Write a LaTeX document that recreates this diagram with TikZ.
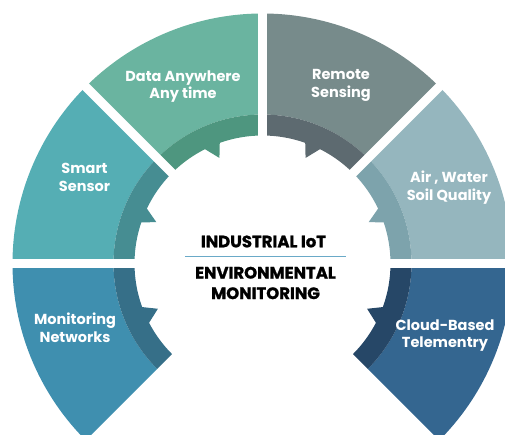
\documentclass[tikz,border=0pt]{standalone}
\usepackage{fontspec}
\setmainfont{Poppins}
\newfontfamily\hubfont{Poppins}[BoldFeatures={FakeBold=1.2}]
\usepackage{tikz}

\definecolor{dataL}{HTML}{6AB4A0}
\definecolor{dataD}{HTML}{4E967F}
\definecolor{remoteL}{HTML}{778B8B}
\definecolor{remoteD}{HTML}{5D6A70}
\definecolor{smartL}{HTML}{55AEB4}
\definecolor{smartD}{HTML}{468D92}
\definecolor{airL}{HTML}{95B6BE}
\definecolor{airD}{HTML}{7DA3AC}
\definecolor{monL}{HTML}{3F8FAF}
\definecolor{monD}{HTML}{366F88}
\definecolor{cloudL}{HTML}{346690}
\definecolor{cloudD}{HTML}{264767}
\definecolor{rule}{HTML}{6AAAC8}

\begin{document}
\begin{tikzpicture}[x=1pt,y=1pt,
    seglabel/.style={text=white, align=center, font=\fontsize{14.5}{17.5}\selectfont\bfseries},
    hublabel/.style={text=black, align=center, font=\hubfont\fontsize{16.5}{20.5}\selectfont\bfseries}]
    % Define parameters of ring
    \def\Rin{128};
    \def\Rband{149};
    \def\Rout{250};
    \def\Rtip{114};

    % Frame of picture
    \clip (-262.5,-170.5) rectangle (242.5,263.5);

    % Draw outer parts of segments
    \fill[dataL] (90:\Rband) arc[start angle=90, end angle=135, radius=\Rband] -- (135:\Rout) arc[start angle=135, end angle=90, radius=\Rout] -- cycle;
    \fill[smartL] (135:\Rband) arc[start angle=135, end angle=180, radius=\Rband] -- (180:\Rout) arc[start angle=180, end angle=135, radius=\Rout] -- cycle;
    \fill[monL] (180:\Rband) arc[start angle=180, end angle=225, radius=\Rband] -- (225:\Rout) arc[start angle=225, end angle=180, radius=\Rout] -- cycle;
    \fill[remoteL] (45:\Rband) arc[start angle=45, end angle=90, radius=\Rband] -- (90:\Rout) arc[start angle=90, end angle=45, radius=\Rout] -- cycle;
    \fill[airL] (0:\Rband) arc[start angle=0, end angle=45, radius=\Rband] -- (45:\Rout) arc[start angle=45, end angle=0, radius=\Rout] -- cycle;
    \fill[cloudL] (-45:\Rband) arc[start angle=-45, end angle=0, radius=\Rband] -- (0:\Rout) arc[start angle=0, end angle=-45, radius=\Rout] -- cycle;

    % Draw inner bands with teeth
    \fill[dataD] (90:\Rband) arc[start angle=90, end angle=135, radius=\Rband] -- (135:\Rin) arc[start angle=135, end angle=116.7, radius=\Rin] -- (112.2:\Rtip) -- (109.5:\Rin) arc[start angle=109.5, end angle=90, radius=\Rin] -- cycle;
    \fill[smartD] (135:\Rband) arc[start angle=135, end angle=180, radius=\Rband] -- (180:\Rin) arc[start angle=180, end angle=161.3, radius=\Rin] -- (158.7:\Rtip) -- (154.6:\Rin) arc[start angle=154.6, end angle=135, radius=\Rin] -- cycle;
    \fill[monD] (180:\Rband) arc[start angle=180, end angle=225, radius=\Rband] -- (225:\Rin) arc[start angle=225, end angle=207.6, radius=\Rin] -- (203.4:\Rtip) -- (199.9:\Rin) arc[start angle=199.9, end angle=180, radius=\Rin] -- cycle;
    \fill[remoteD] (45:\Rband) arc[start angle=45, end angle=90, radius=\Rband] -- (90:\Rin) arc[start angle=90, end angle=70.5, radius=\Rin] -- (67.8:\Rtip) -- (63.3:\Rin) arc[start angle=63.3, end angle=45, radius=\Rin] -- cycle;
    \fill[airD] (0:\Rband) arc[start angle=0, end angle=45, radius=\Rband] -- (45:\Rin) arc[start angle=45, end angle=25.4, radius=\Rin] -- (21.3:\Rtip) -- (18.7:\Rin) arc[start angle=18.7, end angle=0, radius=\Rin] -- cycle;
    \fill[cloudD] (-45:\Rband) arc[start angle=-45, end angle=0, radius=\Rband] -- (0:\Rin) arc[start angle=0, end angle=-19.9, radius=\Rin] -- (-23.4:\Rtip) -- (-27.6:\Rin) arc[start angle=-27.6, end angle=-45, radius=\Rin] -- cycle;

    % Draw white gaps between segments
    \draw[white, line width=9] (90:100) -- (90:260);
    \draw[white, line width=9] (135:100) -- (135:260);
    \draw[white, line width=9] (180:100) -- (180:270);
    \draw[white, line width=9] (45:100) -- (45:260);
    \draw[white, line width=9] (0:100) -- (0:270);

    % Draw labels of segments
    \node[seglabel] (data) at (-79.5,176.8) {Data Anywhere\\Any time};
    \node[seglabel] (remote) at (78.5,178) {Remote\\Sensing};
    \node[seglabel] (smart) at (-178,86) {Smart\\Sensor};
    \node[seglabel] (air) at (186.5,76) {Air , Water\\Soil Quality};
    \node[seglabel] (mon) at (-187.5,-64) {Monitoring\\Networks};
    \node[seglabel] (cloud) at (182.5,-72) {Cloud-Based\\Telementry};

    % Draw hub text
    \node[hublabel] (iiot) at (1,22) {INDUSTRIAL IoT};
    \node[hublabel] (env) at (3,-19.5) {ENVIRONMENTAL\\MONITORING};
    \coordinate (ruleL) at (-77.5,7.2);
    \coordinate (ruleR) at (83.2,7.2);
    \draw[rule, line width=1] (ruleL) -- (ruleR);

\end{tikzpicture}
\end{document}
